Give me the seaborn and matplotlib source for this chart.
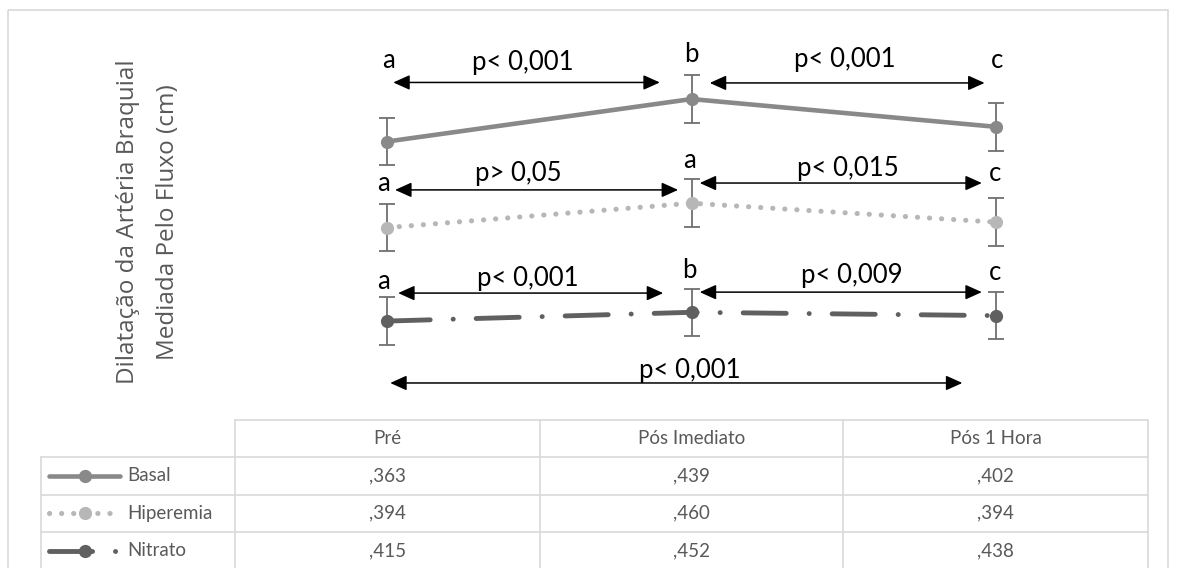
import numpy as np
import pandas as pd
import seaborn as sns
import matplotlib.pyplot as plt
from matplotlib.lines import Line2D
from matplotlib.patches import Rectangle

# dados (tabela do grafico)
momentos = ["Pré", "Pós Imediato", "Pós 1 Hora"]
series = ["Basal", "Hiperemia", "Nitrato"]
basal = [0.363, 0.439, 0.402]
hiperemia = [0.394, 0.460, 0.394]
nitrato = [0.415, 0.452, 0.438]
erro = [0.10, 0.10, 0.10]  # barras de erro

# letras e p-valores das comparacoes
letras = [["a", "b", "c"], ["a", "a", "c"], ["a", "b", "c"]]
pvalores = [["p< 0,001", "p< 0,001"], ["p> 0,05", "p< 0,015"], ["p< 0,001", "p< 0,009"]]
p_total = "p< 0,001"

sns.set_style("white")
plt.rcParams["font.family"] = ["Lato", "DejaVu Sans"]
plt.rcParams["lines.scale_dashes"] = False

# grafico de linhas empilhadas (estilo Excel): Nitrato em baixo, depois Hiperemia, depois Basal
valores = {"Basal": basal, "Hiperemia": hiperemia, "Nitrato": nitrato}
ordem_pilha = ["Nitrato", "Hiperemia", "Basal"]
pilha = np.cumsum([valores[s] for s in ordem_pilha], axis=0)
rows = []
for s, emp in zip(ordem_pilha, pilha):
    for i, m in enumerate(momentos):
        rows.append({"serie": s, "pos": i, "momento": m, "valor": valores[s][i], "empilhado": emp[i]})
df = pd.DataFrame(rows)

estilos = {
    "Basal": dict(color="#898989", linestyle="-", lw=3.3),
    "Hiperemia": dict(color="#b7b7b7", linestyle=(0, (0.1, 8.6)), lw=3.7),
    "Nitrato": dict(color="#606060", linestyle=(0, (31, 16.5, 0.1, 16.5)), lw=3.5),
}

fig = plt.figure(figsize=(11.77, 5.68), dpi=100)
W, H = 1177, 568

# camada em pixels para moldura e tabela
tab = fig.add_axes([0, 0, 1, 1])
tab.set_xlim(0, W)
tab.set_ylim(H, 0)
tab.axis("off")

ax = fig.add_axes([235 / W, 1 - 419.5 / H, (1148 - 235) / W, (419.5 - 40) / H])
ax.patch.set_alpha(0)

for s in series:
    d = df[df.serie == s]
    st = estilos[s]
    sns.lineplot(data=d, x="pos", y="empilhado", ax=ax, color=st["color"], linestyle=st["linestyle"],
                 lw=st["lw"], marker="o", markersize=9.5, markeredgewidth=0, errorbar=None,
                 legend=False, zorder=3)
    ax.errorbar(d["pos"], d["empilhado"], yerr=erro, fmt="none", ecolor="#707070",
                elinewidth=1.3, capsize=5.5, capthick=1.3, zorder=2)

for ln in ax.lines:
    ln.set_dash_capstyle("round")
    ln.set_solid_capstyle("round")

ax.set_xlim(-0.5, 2.5)
ax.set_ylim(0, 1.6)
ax.axis("off")

# setas e textos das comparacoes (coordenadas do grafico)
setas = [
    [(0.02, 0.896, 1.421), (1.06, 1.963, 1.419)],
    [(0.026, 0.956, 0.968), (1.027, 1.954, 0.997)],
    [(0.036, 0.907, 0.533), (1.027, 1.954, 0.537)],
]
pos_p = [[(0.446, 1.505), (1.504, 1.518)], [(0.43, 1.037), (1.514, 1.058)], [(0.462, 0.595), (1.527, 0.607)]]
pos_letras = [[(0.003, 1.515), (1.0, 1.537), (2.003, 1.515)],
              [(-0.013, 0.997), (0.994, 1.094), (1.997, 1.039)],
              [(-0.013, 0.58), (0.994, 0.63), (1.997, 0.618)]]
seta_total = (0.01, 1.89, 0.154)
pos_total = (0.994, 0.207)

arrow_kw = dict(arrowstyle="<|-|>,head_length=1.0,head_width=0.45", color="black", lw=1.1,
                mutation_scale=10, shrinkA=0, shrinkB=0)
fs = 18.5
for k in range(3):
    for (x0, x1, y) in setas[k]:
        ax.annotate("", xy=(x1, y), xytext=(x0, y), arrowprops=arrow_kw)
    for txt, (x, y) in zip(pvalores[k], pos_p[k]):
        ax.text(x, y, txt, ha="center", va="center", fontsize=fs, color="black")
    for txt, (x, y) in zip(letras[k], pos_letras[k]):
        ax.text(x, y, txt, ha="center", va="center", fontsize=fs, color="black")
ax.annotate("", xy=(seta_total[1], seta_total[2]), xytext=(seta_total[0], seta_total[2]), arrowprops=arrow_kw)
ax.text(pos_total[0], pos_total[1], p_total, ha="center", va="center", fontsize=fs, color="black")

# titulo do eixo y
fig.text(148 / W, 1 - 222 / H, "Dilatação da Artéria Braquial\nMediada Pelo Fluxo (cm)", rotation=90,
         ha="center", va="center", multialignment="center", fontsize=17.5, color="#595959",
         family=["Open Sans", "DejaVu Sans"], linespacing=1.85)

# moldura externa
tab.add_patch(Rectangle((8, 10), 1160, 580, fill=False, edgecolor="#d9d9d9", lw=1.2))

# tabela de dados
grid = "#d9d9d9"
col_x = [235, 540, 843, 1148]
row_y = [420, 457, 494.5, 532, 569.5]
left = 41
tab.plot([col_x[0], col_x[-1]], [row_y[0]] * 2, color=grid, lw=1.2)
for y in row_y[1:]:
    tab.plot([left, col_x[-1]], [y, y], color=grid, lw=1.2)
for x in col_x:
    tab.plot([x, x], [row_y[0], row_y[-1]], color=grid, lw=1.2)
tab.plot([left, left], [row_y[1], row_y[-1]], color=grid, lw=1.2)

txt_color = "#595959"
fs_tab = 13.5
for j, m in enumerate(momentos):
    cx = (col_x[j] + col_x[j + 1]) / 2
    tab.text(cx, (row_y[0] + row_y[1]) / 2, m, ha="center", va="center", fontsize=fs_tab, color=txt_color)
for i, s in enumerate(series):
    cy = (row_y[i + 1] + row_y[i + 2]) / 2
    for j, v in enumerate(valores[s]):
        cx = (col_x[j] + col_x[j + 1]) / 2
        lab = f"{v:.3f}".lstrip("0").replace(".", ",")
        tab.text(cx, cy, lab, ha="center", va="center", fontsize=fs_tab, color=txt_color)
    tab.text(127, cy, s, ha="left", va="center", fontsize=fs_tab, color=txt_color)
    # amostra da legenda
    st = estilos[s]
    ln = Line2D([49, 120], [cy, cy], color=st["color"], linestyle=st["linestyle"], lw=st["lw"],
                dash_capstyle="round", solid_capstyle="round")
    tab.add_line(ln)
    tab.plot([84.5], [cy], marker="o", markersize=9.5, markeredgewidth=0, color=st["color"])

fig.savefig("out.png", dpi=100)
